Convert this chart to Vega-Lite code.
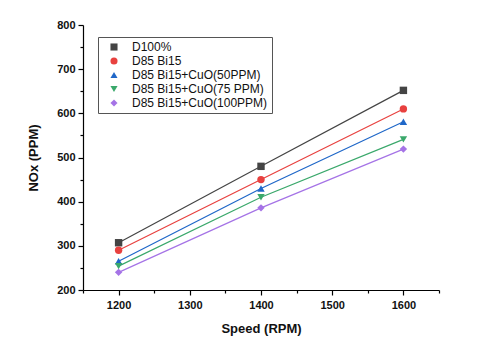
{
  "$schema": "https://vega.github.io/schema/vega-lite/v6.json",
  "width": 356,
  "height": 265,
  "autosize": {"type": "none"},
  "padding": {"left": 83, "top": 25, "right": 41, "bottom": 69},
  "background": "white",
  "config": {
    "font": "Liberation Sans",
    "view": {"stroke": null}
  },
  "data": {
    "values": [
      {"speed": 1200, "nox": 307, "fuel": "D100%"},
      {"speed": 1400, "nox": 480, "fuel": "D100%"},
      {"speed": 1600, "nox": 652, "fuel": "D100%"},
      {"speed": 1200, "nox": 290, "fuel": "D85 Bi15"},
      {"speed": 1400, "nox": 450, "fuel": "D85 Bi15"},
      {"speed": 1600, "nox": 610, "fuel": "D85 Bi15"},
      {"speed": 1200, "nox": 265, "fuel": "D85 Bi15+CuO(50PPM)"},
      {"speed": 1400, "nox": 430, "fuel": "D85 Bi15+CuO(50PPM)"},
      {"speed": 1600, "nox": 581, "fuel": "D85 Bi15+CuO(50PPM)"},
      {"speed": 1200, "nox": 254, "fuel": "D85 Bi15+CuO(75 PPM)"},
      {"speed": 1400, "nox": 410, "fuel": "D85 Bi15+CuO(75 PPM)"},
      {"speed": 1600, "nox": 541, "fuel": "D85 Bi15+CuO(75 PPM)"},
      {"speed": 1200, "nox": 240, "fuel": "D85 Bi15+CuO(100PPM)"},
      {"speed": 1400, "nox": 386, "fuel": "D85 Bi15+CuO(100PPM)"},
      {"speed": 1600, "nox": 519, "fuel": "D85 Bi15+CuO(100PPM)"}
    ]
  },
  "encoding": {
    "x": {
      "field": "speed", "type": "quantitative",
      "scale": {"domain": [1150, 1650], "nice": false, "zero": false},
      "axis": {
        "title": "Speed (RPM)", "format": "d", "values": [1150, 1200, 1250, 1300, 1350, 1400, 1450, 1500, 1550, 1600, 1650],
        "labelExpr": "datum.value % 100 === 0 ? datum.label : ''",
        "tickSize": {"condition": {"test": "datum.value % 100 !== 0", "value": 3}, "value": 5},
        "grid": false, "domainColor": "#000", "tickColor": "#000", "domainWidth": 1.2, "tickWidth": 1.2,
        "labelFont": "Liberation Sans", "labelFontWeight": "bold", "labelFontSize": 11, "labelColor": "#111", "labelPadding": 4,
        "titleFont": "Liberation Sans", "titleFontWeight": "bold", "titleFontSize": 13, "titleColor": "#111", "titlePadding": 12,
        "labelFlush": false
      }
    },
    "y": {
      "field": "nox", "type": "quantitative",
      "scale": {"domain": [200, 800], "nice": false, "zero": false},
      "axis": {
        "title": "NOx (PPM)", "format": "d", "values": [200, 250, 300, 350, 400, 450, 500, 550, 600, 650, 700, 750, 800],
        "labelExpr": "datum.value % 100 === 0 ? datum.label : ''",
        "tickSize": {"condition": {"test": "datum.value % 100 !== 0", "value": 3}, "value": 5},
        "grid": false, "domainColor": "#000", "tickColor": "#000", "domainWidth": 1.2, "tickWidth": 1.2,
        "labelFont": "Liberation Sans", "labelFontWeight": "bold", "labelFontSize": 11, "labelColor": "#111", "labelPadding": 3,
        "titleFont": "Liberation Sans", "titleFontWeight": "bold", "titleFontSize": 13, "titleColor": "#111", "titlePadding": 16,
        "labelFlush": false
      }
    },
    "color": {
      "field": "fuel", "type": "nominal",
      "scale": {
        "domain": ["D100%", "D85 Bi15", "D85 Bi15+CuO(50PPM)", "D85 Bi15+CuO(75 PPM)", "D85 Bi15+CuO(100PPM)"],
        "range": ["#444444", "#e8413f", "#1f67c8", "#3aa86b", "#a573e6"]
      },
      "legend": {
        "title": null, "orient": "none", "legendX": 15, "legendY": 12,
        "strokeColor": "#555", "padding": 4, "rowPadding": 2,
        "labelFont": "Liberation Sans", "labelFontSize": 12, "labelColor": "#111",
        "symbolSize": 50, "symbolStrokeWidth": 0, "labelLimit": 300,
        "symbolOffset": 6, "labelOffset": 12
      }
    },
    "shape": {
      "field": "fuel", "type": "nominal",
      "scale": {
        "domain": ["D100%", "D85 Bi15", "D85 Bi15+CuO(50PPM)", "D85 Bi15+CuO(75 PPM)", "D85 Bi15+CuO(100PPM)"],
        "range": ["square", "circle", "triangle-up", "triangle-down", "diamond"]
      },
      "legend": null
    }
  },
  "layer": [
    {"mark": {"type": "line", "strokeWidth": 1.2}, "encoding": {"shape": null}},
    {"mark": {"type": "point", "filled": true, "size": 55, "opacity": 1}}
  ]
}
